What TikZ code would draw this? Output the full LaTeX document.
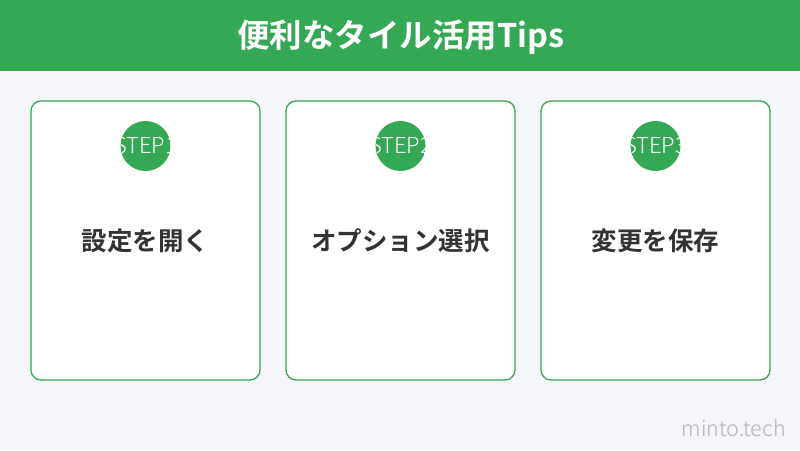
\documentclass[tikz,border=0pt]{standalone}
\usepackage{fontspec}
\newfontfamily\jpbold{Noto Sans CJK JP Bold}
\newfontfamily\jplight{Noto Sans CJK JP Light}
\newfontfamily\jpreg{Noto Sans CJK JP}
\definecolor{bggray}{HTML}{F5F6FA}
\definecolor{gbrand}{HTML}{34A853}
\definecolor{txtdark}{HTML}{333333}
\definecolor{wmgray}{HTML}{B4B4B4}
\tikzset{
  card/.style={draw=gbrand, line width=1.3pt, fill=white, rounded corners=10pt, minimum width=229pt, minimum height=279pt, inner sep=0pt},
  badge/.style={circle, fill=gbrand, minimum size=50pt, inner sep=0pt},
  badgetext/.style={text=white, font=\jplight\fontsize{22}{22}\selectfont, inner sep=0pt},
  cardtitle/.style={text=txtdark, font=\jpbold\fontsize{25.5}{25.5}\selectfont, inner sep=0pt}
}
\begin{document}
\begin{tikzpicture}[x=1pt,y=-1pt]
\useasboundingbox (0,0) rectangle (800,450);
\fill[bggray] (0,0) rectangle (800,450);
\fill[gbrand] (0,0) rectangle (800,71);
\node[text=white, font=\jpbold\fontsize{32.5}{32.5}\selectfont] (title) at (401,37) {便利なタイル活用Tips};
\foreach \i/\cx/\lbl in {1/145.5/設定を開く, 2/400.5/オプション選択, 3/655.5/変更を保存}{
  \node[card] (card\i) at (\cx,240.5) {};
  \node[badge] (badge\i) at (\cx,146) {};
  \begin{scope}
    \clip (\cx,146) circle (25);
    \node[badgetext] (step\i) at (\cx,145.5) {STEP\i};
  \end{scope}
  \node[cardtitle] (label\i) at (\cx,241) {\lbl};
}
\node[text=wmgray, font=\jplight\fontsize{21.5}{21.5}\selectfont, anchor=east, inner sep=0pt] (wm) at (786,428) {minto.tech};
\end{tikzpicture}
\end{document}
